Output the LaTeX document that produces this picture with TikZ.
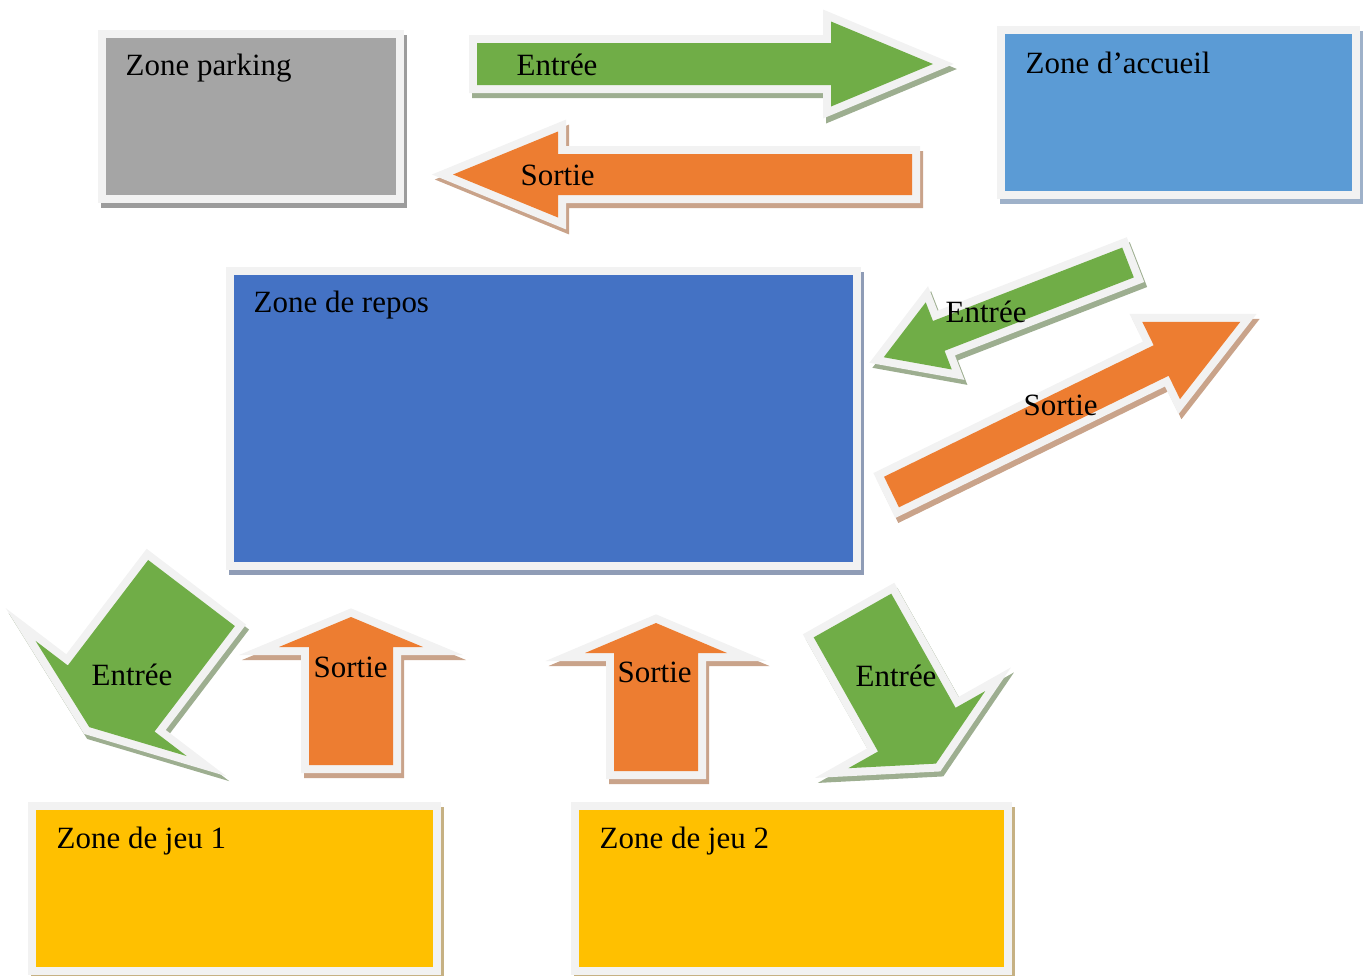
\documentclass[tikz,border=0pt]{standalone}
\usepackage{fontspec}
\setmainfont{Liberation Serif}
\definecolor{bord}{HTML}{F2F2F2}
\definecolor{gris}{HTML}{A5A5A5}
\definecolor{ombregris}{HTML}{9C9C9C}
\definecolor{bleuclair}{HTML}{5B9BD5}
\definecolor{ombrebleuclair}{HTML}{9EB1C9}
\definecolor{bleu}{HTML}{4472C4}
\definecolor{ombrebleu}{HTML}{8F9CB6}
\definecolor{jaune}{HTML}{FFC000}
\definecolor{ombrejaune}{HTML}{C6B183}
\definecolor{vert}{HTML}{70AD47}
\definecolor{ombrevert}{HTML}{9DAE90}
\definecolor{orangefl}{HTML}{ED7D31}
\definecolor{ombreorange}{HTML}{C9A38A}
\tikzset{
  bloc/.style 2 args={line join=miter, draw=none,
    preaction={fill=#2, draw=#2, line width=0.16cm, transform canvas={xshift=0.03cm, yshift=-0.05cm}},
    preaction={draw=bord, line width=0.16cm},
    fill=#1},
  etiquette/.style={anchor=base west, inner sep=0pt, font=\fontsize{8.8}{10}\selectfont}
}
\begin{document}
\begin{tikzpicture}[x=0.01cm, y=-0.01cm]
\useasboundingbox (0,0) rectangle (1364,975); % Pour la bounding box

% Zones
\draw [bloc={gris}{ombregris}] (106,38) rectangle (396,195);
\draw [bloc={bleuclair}{ombrebleuclair}] (1005,34) rectangle (1352,191);
\draw [bloc={bleu}{ombrebleu}] (234,275) rectangle (853,562);
\draw [bloc={jaune}{ombrejaune}] (36,810) rectangle (433,967);
\draw [bloc={jaune}{ombrejaune}] (579,810) rectangle (1004,967);

% Fleches
\draw [bloc={vert}{ombrevert}, shift={(477,64)}] (0,-21) -- (354,-21) -- (354,-42.5) -- (456,0) -- (354,42.5) -- (354,21) -- (0,21) -- cycle;
\draw [bloc={orangefl}{ombreorange}, shift={(912,174.5)}, rotate=180] (0,-20.5) -- (354,-20.5) -- (354,-43) -- (459,0) -- (354,43) -- (354,20.5) -- (0,20.5) -- cycle;
\draw [bloc={vert}{ombrevert}, shift={(1128,262.5)}, rotate=201.2] (0,-16) -- (203,-16) -- (203,-36) -- (262,0) -- (203,36) -- (203,16) -- (0,16) -- cycle;
\draw [bloc={orangefl}{ombreorange}, shift={(891.5,492)}, rotate=26] (0,-17) -- (300,-17) -- (300,-43) -- (388,0) -- (300,43) -- (300,17) -- (0,17) -- cycle;
\draw [bloc={vert}{ombrevert}, shift={(191.5,593)}, rotate=232.7] (0,-54.5) -- (132.6,-54.5) -- (132.6,-95) -- (168.6,0) -- (132.6,95) -- (132.6,54.5) -- (0,54.5) -- cycle;
\draw [bloc={orangefl}{ombreorange}, shift={(351,765)}, rotate=90] (0,-42) -- (118,-42) -- (118,-72) -- (148,0) -- (118,72) -- (118,42) -- (0,42) -- cycle;
\draw [bloc={orangefl}{ombreorange}, shift={(656,771)}, rotate=90] (0,-42) -- (118,-42) -- (118,-71) -- (148,0) -- (118,71) -- (118,42) -- (0,42) -- cycle;
\draw [bloc={vert}{ombrevert}, shift={(852.5,615.5)}, rotate=-60.6] (0,-44.5) -- (131,-44.5) -- (131,-78.5) -- (170,0) -- (131,78.5) -- (131,44.5) -- (0,44.5) -- cycle;

% Textes
\node [etiquette] (parking) at (125,75) {Zone parking};
\node [etiquette] (accueil) at (1025,73) {Zone d’accueil};
\node [etiquette] (repos) at (253,312) {Zone de repos};
\node [etiquette] (jeu1) at (56,848) {Zone de jeu 1};
\node [etiquette] (jeu2) at (599,848) {Zone de jeu 2};
\node [etiquette] (entree1) at (516,75) {Entrée};
\node [etiquette] (sortie1) at (520,185) {Sortie};
\node [etiquette] (entree2) at (945,322) {Entrée};
\node [etiquette] (sortie2) at (1023,415) {Sortie};
\node [etiquette] (entree3) at (91,685) {Entrée};
\node [etiquette] (sortie3) at (313,677) {Sortie};
\node [etiquette] (sortie4) at (617,682) {Sortie};
\node [etiquette] (entree4) at (855,686) {Entrée};
\end{tikzpicture}
\end{document}
